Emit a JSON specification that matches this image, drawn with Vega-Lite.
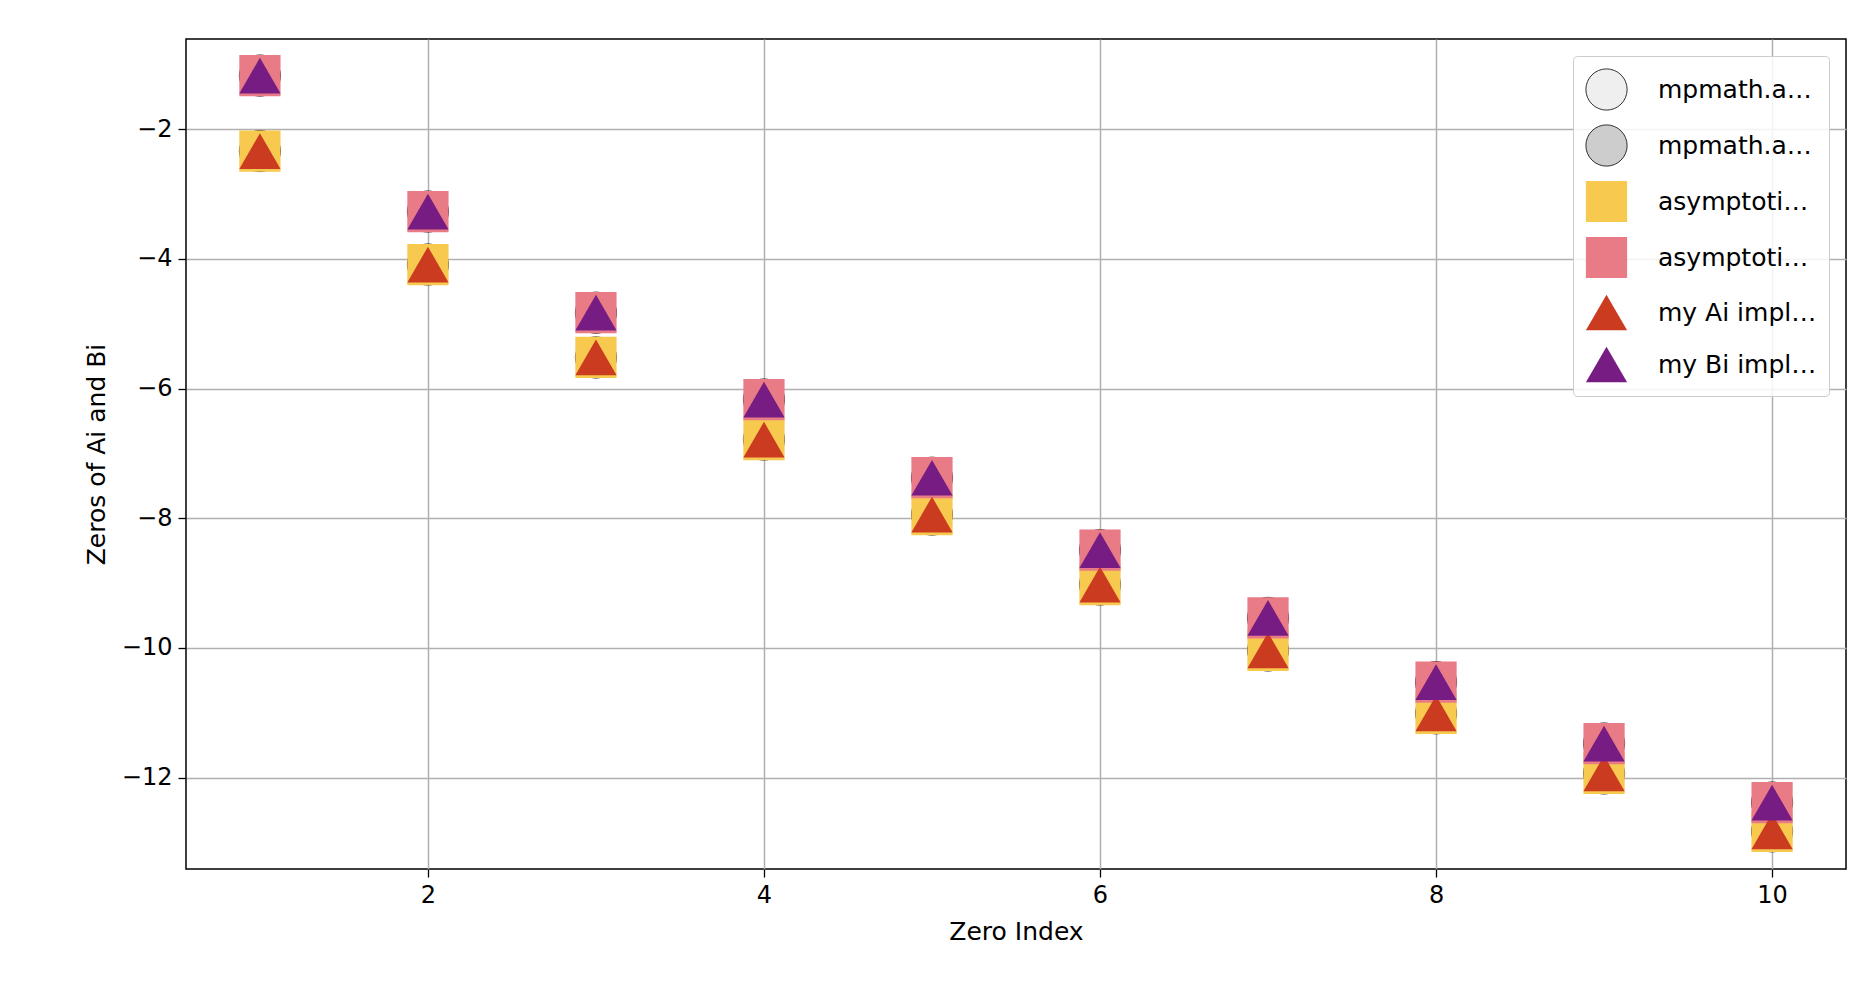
{
  "$schema": "https://vega.github.io/schema/vega-lite/v6.json",
  "width": 1660,
  "height": 830,
  "autosize": "none",
  "padding": {"left": 186, "top": 39, "right": 29, "bottom": 131},
  "background": "white",
  "data": {
    "values": [
      {"i": 1, "s": "mpmath.airyaizero", "v": -2.338}, {"i": 2, "s": "mpmath.airyaizero", "v": -4.088}, {"i": 3, "s": "mpmath.airyaizero", "v": -5.521}, {"i": 4, "s": "mpmath.airyaizero", "v": -6.787}, {"i": 5, "s": "mpmath.airyaizero", "v": -7.944}, {"i": 6, "s": "mpmath.airyaizero", "v": -9.023}, {"i": 7, "s": "mpmath.airyaizero", "v": -10.040}, {"i": 8, "s": "mpmath.airyaizero", "v": -11.009}, {"i": 9, "s": "mpmath.airyaizero", "v": -11.936}, {"i": 10, "s": "mpmath.airyaizero", "v": -12.829},
      {"i": 1, "s": "mpmath.airybizero", "v": -1.174}, {"i": 2, "s": "mpmath.airybizero", "v": -3.271}, {"i": 3, "s": "mpmath.airybizero", "v": -4.831}, {"i": 4, "s": "mpmath.airybizero", "v": -6.170}, {"i": 5, "s": "mpmath.airybizero", "v": -7.376}, {"i": 6, "s": "mpmath.airybizero", "v": -8.493}, {"i": 7, "s": "mpmath.airybizero", "v": -9.538}, {"i": 8, "s": "mpmath.airybizero", "v": -10.528}, {"i": 9, "s": "mpmath.airybizero", "v": -11.475}, {"i": 10, "s": "mpmath.airybizero", "v": -12.385},
      {"i": 1, "s": "asymptotic Ai", "v": -2.338}, {"i": 2, "s": "asymptotic Ai", "v": -4.088}, {"i": 3, "s": "asymptotic Ai", "v": -5.521}, {"i": 4, "s": "asymptotic Ai", "v": -6.787}, {"i": 5, "s": "asymptotic Ai", "v": -7.944}, {"i": 6, "s": "asymptotic Ai", "v": -9.023}, {"i": 7, "s": "asymptotic Ai", "v": -10.040}, {"i": 8, "s": "asymptotic Ai", "v": -11.009}, {"i": 9, "s": "asymptotic Ai", "v": -11.936}, {"i": 10, "s": "asymptotic Ai", "v": -12.829},
      {"i": 1, "s": "asymptotic Bi", "v": -1.174}, {"i": 2, "s": "asymptotic Bi", "v": -3.271}, {"i": 3, "s": "asymptotic Bi", "v": -4.831}, {"i": 4, "s": "asymptotic Bi", "v": -6.170}, {"i": 5, "s": "asymptotic Bi", "v": -7.376}, {"i": 6, "s": "asymptotic Bi", "v": -8.493}, {"i": 7, "s": "asymptotic Bi", "v": -9.538}, {"i": 8, "s": "asymptotic Bi", "v": -10.528}, {"i": 9, "s": "asymptotic Bi", "v": -11.475}, {"i": 10, "s": "asymptotic Bi", "v": -12.385},
      {"i": 1, "s": "my Ai implementation", "v": -2.338}, {"i": 2, "s": "my Ai implementation", "v": -4.088}, {"i": 3, "s": "my Ai implementation", "v": -5.521}, {"i": 4, "s": "my Ai implementation", "v": -6.787}, {"i": 5, "s": "my Ai implementation", "v": -7.944}, {"i": 6, "s": "my Ai implementation", "v": -9.023}, {"i": 7, "s": "my Ai implementation", "v": -10.040}, {"i": 8, "s": "my Ai implementation", "v": -11.009}, {"i": 9, "s": "my Ai implementation", "v": -11.936}, {"i": 10, "s": "my Ai implementation", "v": -12.829},
      {"i": 1, "s": "my Bi implementation", "v": -1.174}, {"i": 2, "s": "my Bi implementation", "v": -3.271}, {"i": 3, "s": "my Bi implementation", "v": -4.831}, {"i": 4, "s": "my Bi implementation", "v": -6.170}, {"i": 5, "s": "my Bi implementation", "v": -7.376}, {"i": 6, "s": "my Bi implementation", "v": -8.493}, {"i": 7, "s": "my Bi implementation", "v": -9.538}, {"i": 8, "s": "my Bi implementation", "v": -10.528}, {"i": 9, "s": "my Bi implementation", "v": -11.475}, {"i": 10, "s": "my Bi implementation", "v": -12.385}
    ]
  },
  "mark": {"type": "point", "filled": true, "opacity": 1, "strokeWidth": 0.8},
  "encoding": {
    "x": {
      "field": "i", "type": "quantitative", "title": "Zero Index",
      "scale": {"domain": [0.56, 10.44], "nice": false, "zero": false},
      "axis": {"values": [2, 4, 6, 8, 10]}
    },
    "y": {
      "field": "v", "type": "quantitative", "title": "Zeros of Ai and Bi",
      "scale": {"domain": [-13.41, -0.61], "nice": false, "zero": false},
      "axis": {"values": [-2, -4, -6, -8, -10, -12], "labelExpr": "replace(datum.label, '-', '−')"}
    },
    "color": {
      "field": "s", "type": "nominal", "title": null,
      "sort": ["mpmath.airyaizero", "mpmath.airybizero", "asymptotic Ai", "asymptotic Bi", "my Ai implementation", "my Bi implementation"],
      "scale": {
        "domain": ["mpmath.airyaizero", "mpmath.airybizero", "asymptotic Ai", "asymptotic Bi", "my Ai implementation", "my Bi implementation"],
        "range": ["#efefef", "#cdcdcd", "#f8c94f", "#e97b86", "#cb3b20", "#761c83"]
      }
    },
    "stroke": {
      "field": "s", "type": "nominal", "title": null,
      "sort": ["mpmath.airyaizero", "mpmath.airybizero", "asymptotic Ai", "asymptotic Bi", "my Ai implementation", "my Bi implementation"],
      "scale": {
        "domain": ["mpmath.airyaizero", "mpmath.airybizero", "asymptotic Ai", "asymptotic Bi", "my Ai implementation", "my Bi implementation"],
        "range": ["#000000", "#000000", "transparent", "transparent", "transparent", "transparent"]
      }
    },
    "shape": {
      "field": "s", "type": "nominal", "title": null,
      "sort": ["mpmath.airyaizero", "mpmath.airybizero", "asymptotic Ai", "asymptotic Bi", "my Ai implementation", "my Bi implementation"],
      "scale": {
        "domain": ["mpmath.airyaizero", "mpmath.airybizero", "asymptotic Ai", "asymptotic Bi", "my Ai implementation", "my Bi implementation"],
        "range": ["circle", "circle", "square", "square", "triangle-up", "triangle-up"]
      }
    },
    "size": {
      "field": "s", "type": "nominal", "title": null,
      "sort": ["mpmath.airyaizero", "mpmath.airybizero", "asymptotic Ai", "asymptotic Bi", "my Ai implementation", "my Bi implementation"],
      "scale": {
        "domain": ["mpmath.airyaizero", "mpmath.airybizero", "asymptotic Ai", "asymptotic Bi", "my Ai implementation", "my Bi implementation"],
        "range": [1700, 1700, 1300, 1300, 60, 60]
      }
    }
  },
  "config": {
    "font": "DejaVu Sans",
    "view": {"stroke": "black", "strokeWidth": 1.5},
    "axis": {
      "grid": true, "gridColor": "#b0b0b0", "gridWidth": 1.5,
      "domain": false, "tickColor": "black", "tickSize": 8, "tickWidth": 1.3,
      "labelFontSize": 24, "labelColor": "black", "labelPadding": 6,
      "titleFontSize": 25, "titleColor": "black", "titleFontWeight": "normal", "titlePadding": 12
    },
    "legend": {
      "orient": "top-right", "offset": 17,
      "fillColor": "rgba(255,255,255,0.85)", "strokeColor": "#cccccc", "cornerRadius": 4,
      "padding": 12, "labelFontSize": 25, "labelColor": "black", "labelOffset": 30,
      "rowPadding": 11, "symbolStrokeWidth": 0.8
    }
  }
}
